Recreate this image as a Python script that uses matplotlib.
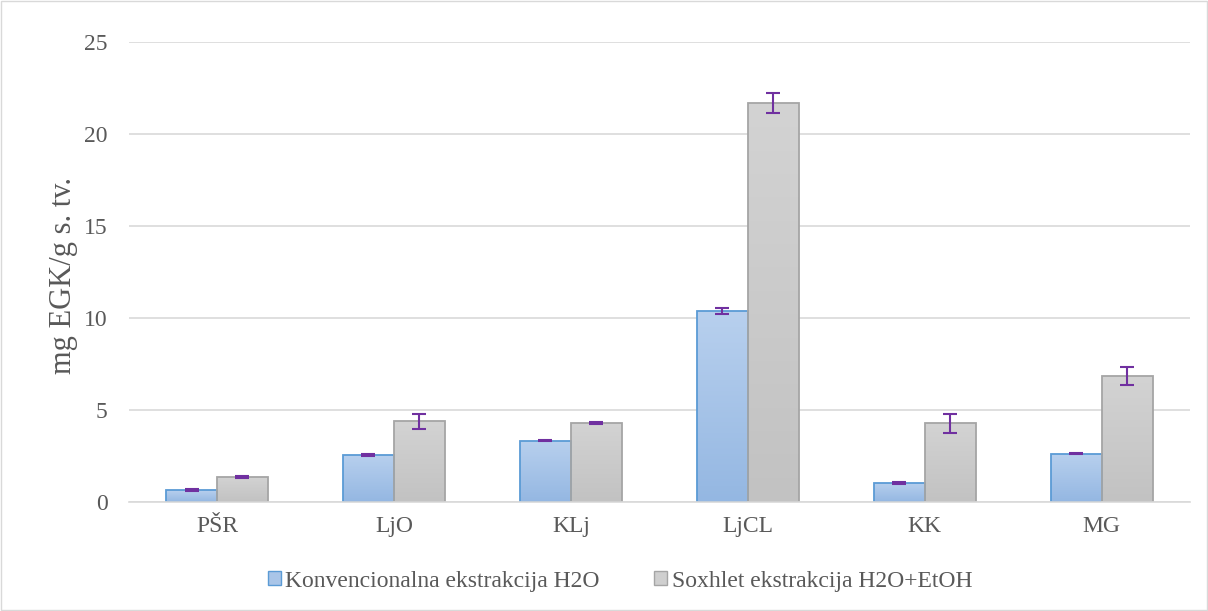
import numpy as np
import matplotlib
matplotlib.use("Agg")
import matplotlib.pyplot as plt
from matplotlib.colors import LinearSegmentedColormap

categories = ["PŠR", "LjO", "KLj", "LjCL", "KK", "MG"]
konv = [0.65, 2.56, 3.33, 10.37, 1.04, 2.62]
konv_err = [0.04, 0.04, 0.04, 0.15, 0.04, 0.04]
soxh = [1.36, 4.38, 4.3, 21.68, 4.27, 6.86]
soxh_err = [0.05, 0.42, 0.04, 0.55, 0.5, 0.5]
labels = ["Konvencionalna ekstrakcija H2O", "Soxhlet ekstrakcija H2O+EtOH"]

plt.rcParams["font.family"] = ["Liberation Serif", "DejaVu Serif"]
text_col = "#595959"


def gradient_bars(ax, bars, c_top, c_bottom):
    cmap = LinearSegmentedColormap.from_list("g", [c_bottom, c_top])
    grad = np.linspace(0, 1, 256).reshape(-1, 1)
    for b in bars:
        x, y = b.get_x(), b.get_y()
        w, h = b.get_width(), b.get_height()
        im = ax.imshow(grad, cmap=cmap, origin="lower", aspect="auto",
                       extent=[x, x + w, y, y + h], zorder=1.5)
        im.set_clip_path(b)


fig = plt.figure(figsize=(12.08, 6.11), dpi=100)
ax = fig.add_axes([0.1064, 0.1785, 0.8788, 0.7528])

x = np.arange(len(categories))
w = 0.288
b1 = ax.bar(x - w / 2, konv, w, color="none", edgecolor="#5b9bd5",
            linewidth=1.3, zorder=2)
b2 = ax.bar(x + w / 2, soxh, w, color="none", edgecolor="#a5a5a5",
            linewidth=1.3, zorder=2)
gradient_bars(ax, b1, "#b8d0ee", "#94b7e2")
gradient_bars(ax, b2, "#d3d3d3", "#c2c2c2")

ax.errorbar(x - w / 2, konv, yerr=konv_err, fmt="none", ecolor="#7030a0",
            elinewidth=1.5, capsize=5, capthick=1.5, zorder=3)
ax.errorbar(x + w / 2, soxh, yerr=soxh_err, fmt="none", ecolor="#7030a0",
            elinewidth=1.5, capsize=5, capthick=1.5, zorder=3)

ax.set_xlim(-0.5, len(categories) - 0.5)
ax.set_ylim(0, 25)
ax.set_yticks(np.arange(0, 26, 5))
ax.set_xticks(x)
ax.set_xticklabels(categories)
ax.yaxis.grid(True, color="#d9d9d9", linewidth=1.2)
ax.set_axisbelow(True)
for s in ["top", "right", "left"]:
    ax.spines[s].set_visible(False)
ax.spines["bottom"].set_color("#d9d9d9")
ax.spines["bottom"].set_linewidth(1.2)
ax.tick_params(axis="both", colors=text_col, labelsize=17, length=0)
ax.tick_params(axis="y", pad=15)
ax.tick_params(axis="x", pad=10)

fig.text(63 / 1208, 1 - 275 / 611, "mg EGK/g s. tv.", rotation=90,
         ha="center", va="center", fontsize=22, color=text_col)

h1 = plt.Rectangle((0, 0), 1, 1, facecolor="#a9c5e8", edgecolor="#5b9bd5")
h2 = plt.Rectangle((0, 0), 1, 1, facecolor="#cfcfcf", edgecolor="#a5a5a5")
leg = fig.legend([h1, h2], labels, loc="center",
                 bbox_to_anchor=(620 / 1208, 1 - 581 / 611),
                 ncol=2, frameon=False, fontsize=17, handlelength=0.55,
                 handleheight=0.55, handletextpad=0.2, columnspacing=2.3,
                 borderpad=0)
for t in leg.get_texts():
    t.set_color(text_col)

fig.patches.append(plt.Rectangle((0.001, 0.001), 0.998, 0.998,
                                 transform=fig.transFigure, fill=False,
                                 edgecolor="#d9d9d9", linewidth=1))

fig.savefig("out.png", dpi=100)
